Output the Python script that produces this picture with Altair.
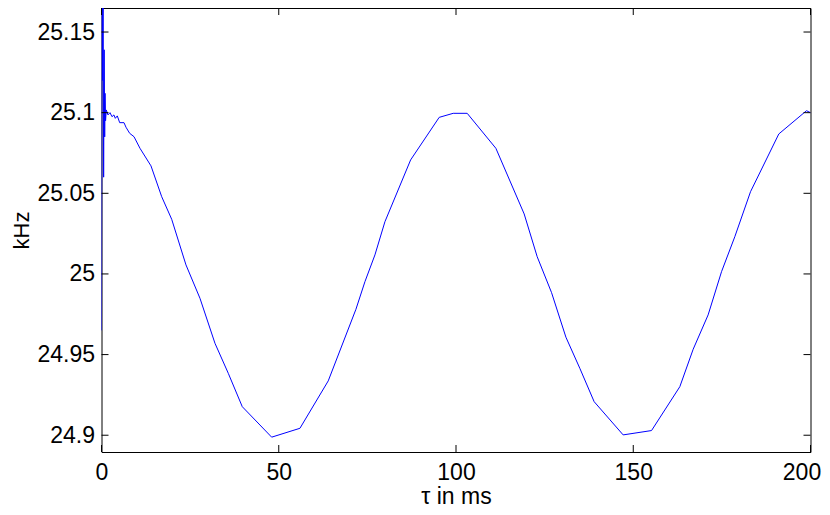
import altair as alt
import pandas as pd

# time in ms
t_ms = [0.0, 0.15, 0.3, 0.45, 0.6, 0.75, 0.9, 1.0, 1.15, 1.35, 1.83, 2.4, 2.96, 3.5, 3.9,
        4.46, 5.13, 6.35, 6.9, 7.95, 9.17, 10.86, 13.96, 16.98, 19.8, 23.83, 27.78, 32.01,
        35.76, 39.71, 48.0, 55.98, 63.96, 71.77, 74.31, 77.13, 79.95, 87.2, 95.26, 99.21,
        103.16, 111.25, 119.23, 122.9, 126.96, 131.0, 134.93, 138.97, 147.15, 155.16,
        163.14, 166.9, 171.12, 174.9, 178.65, 183.08, 191.06, 198.87, 200.0]
# frequency in kHz
f_khz = [24.965, 25.19, 25.12, 25.175, 25.060, 25.139, 25.085, 25.112, 25.095, 25.1017,
         25.0986, 25.100, 25.0975, 25.0986, 25.0965, 25.098, 25.0938, 25.0938, 25.091,
         25.0872, 25.0851, 25.0779, 25.067, 25.0479, 25.0339, 25.0056, 24.9849, 24.957,
         24.9384, 24.9177, 24.8988, 24.9043, 24.9337, 24.9781, 24.9952, 25.0118, 25.0324,
         25.0707, 25.0971, 25.0996, 25.0996, 25.0779, 25.0372, 25.0107, 24.9884, 24.9608,
         24.9415, 24.9208, 24.9002, 24.9029, 24.9301, 24.9533, 24.9746, 25.0014, 25.0231,
         25.051, 25.0868, 25.1012, 25.100]

x_ticks = [0, 50, 100, 150, 200]
y_ticks = [24.9, 24.95, 25.0, 25.05, 25.1, 25.15]
y_labels = ["24.9", "24.95", "25", "25.05", "25.1", "25.15"]

W, H = 709, 444
FONT = "Liberation Sans"
FS = 23

df = pd.DataFrame({"t": t_ms, "f": f_khz})
xt = pd.DataFrame({"t": x_ticks})
yt = pd.DataFrame({"f": y_ticks})

xscale = alt.Scale(domain=[0, 200], nice=False, zero=False)
yscale = alt.Scale(domain=[24.8896, 25.1649], nice=False, zero=False)

y_label_expr = " : ".join(
    [f"abs(datum.value-{v})<1e-6 ? '{l}'" for v, l in zip(y_ticks, y_labels)]) + " : ''"

x_axis = alt.Axis(values=x_ticks, title="τ in ms", tickSize=0, domain=False, grid=False,
                  labelPadding=9, titlePadding=1, labelFlush=False,
                  labelOffset={"condition": {"test": "datum.value >= 200", "value": -9},
                               "value": 0})
y_axis = alt.Axis(values=y_ticks, title="kHz", tickSize=0, domain=False, grid=False,
                  labelPadding=7, titlePadding=3, titleFontSize=22,
                  labelExpr=y_label_expr, labelFlush=False)

X = alt.X("t:Q", scale=xscale, axis=x_axis)
Y = alt.Y("f:Q", scale=yscale, axis=y_axis)

line = alt.Chart(df).mark_line(color="#0000FF", strokeWidth=1, clip=True).encode(x=X, y=Y)

tick_len = 7
yl = alt.Chart(yt).mark_rule(color="black", strokeWidth=1).encode(
    y=Y, x=alt.value(0), x2=alt.value(tick_len))
yr = alt.Chart(yt).mark_rule(color="black", strokeWidth=1).encode(
    y=Y, x=alt.value(W - tick_len), x2=alt.value(W))
xb = alt.Chart(xt).mark_rule(color="black", strokeWidth=1).encode(
    x=X, y=alt.value(H - tick_len), y2=alt.value(H))
xtop = alt.Chart(xt).mark_rule(color="black", strokeWidth=1).encode(
    x=X, y=alt.value(0), y2=alt.value(tick_len))

chart = alt.layer(line, yl, yr, xb, xtop).properties(
    width=W, height=H,
    background="white",
    autosize=alt.AutoSizeParams(type="none"),
    padding={"left": 93.5, "top": 0, "right": 11, "bottom": 55},
).configure_view(stroke="black", strokeWidth=1).configure_axis(
    labelFont=FONT, titleFont=FONT, labelFontSize=FS, titleFontSize=FS,
    labelColor="black", titleColor="black", titleFontWeight="normal",
)

chart.save("out.html", embed_options={"renderer": "svg", "actions": False})
